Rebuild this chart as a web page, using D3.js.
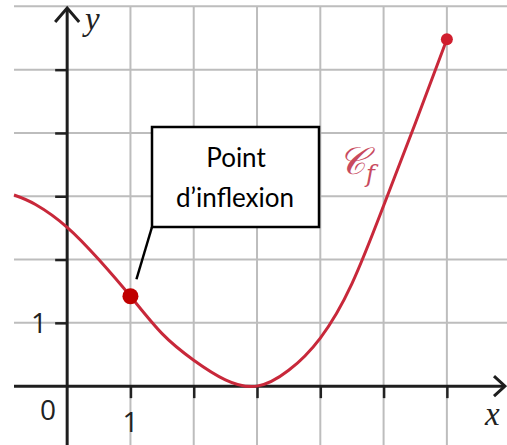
<!DOCTYPE html>
<html>
<head>
<meta charset="utf-8">
<script src="https://cdn.jsdelivr.net/npm/d3@7"></script>
<style>
  html, body { margin: 0; padding: 0; background: #fff; }
  svg { display: block; }
</style>
</head>
<body>
<svg id="chart" width="507" height="445"></svg>
<script>
// Sampled points of the curve C_f
const curveX = [-0.84, -0.5, 0, 0.5, 1, 1.5, 2, 2.5, 3, 3.5, 4, 4.5, 5, 5.5, 6];
const curveY = [3.02, 2.87, 2.51, 2.0, 1.42, 0.83, 0.41, 0.1, 0, 0.25, 0.76, 1.62, 2.85, 4.15, 5.48];

// Marked points: inflection point and the end point of the curve
const inflection = { x: 1, y: 1.42 };
const endPoint = { x: 6, y: 5.48 };

// Grid and tick values
const gridX = [1, 2, 3, 4, 5, 6];
const gridY = [1, 2, 3, 4, 5, 6];
const xTickLabels = ["1"];
const yTickLabels = ["1"];

const W = 507, H = 445;
const svg = d3.select("#chart");

const x = d3.scaleLinear().domain([-0.84, 6.95]).range([14, 507]);
const y = d3.scaleLinear().domain([-0.93, 5.99]).range([445, 7]);

const gridColor = "#bdbdbd";
const red = "#c8283a";

// Grid
const grid = svg.append("g");
grid.selectAll("line.vx").data(gridX).join("line")
  .attr("x1", d => x(d)).attr("x2", d => x(d))
  .attr("y1", y(5.99)).attr("y2", H)
  .attr("stroke", gridColor).attr("stroke-width", 2);
grid.selectAll("line.hy").data(gridY).join("line")
  .attr("x1", 14).attr("x2", W)
  .attr("y1", d => y(d)).attr("y2", d => y(d))
  .attr("stroke", gridColor).attr("stroke-width", 2);

// Axes ticks via d3 axes (no labels)
const axX = d3.axisBottom(x).tickValues(gridX).tickSize(12).tickFormat("");
const axY = d3.axisLeft(y).tickValues(gridY.slice(0, 5)).tickSize(12).tickFormat("");
const gx = svg.append("g").attr("transform", `translate(0,${y(0)})`).call(axX);
const gy = svg.append("g").attr("transform", `translate(${x(0)},0)`).call(axY);
[gx, gy].forEach(g => {
  g.select(".domain").remove();
  g.selectAll(".tick line").attr("stroke", "#222").attr("stroke-width", 2.5);
});

// Axis lines with arrowheads
const axisColor = "#1e1e1e";
svg.append("line").attr("x1", 14).attr("x2", 505)
  .attr("y1", y(0)).attr("y2", y(0))
  .attr("stroke", axisColor).attr("stroke-width", 3);
svg.append("line").attr("x1", x(0)).attr("x2", x(0))
  .attr("y1", H).attr("y2", 8)
  .attr("stroke", axisColor).attr("stroke-width", 3);
svg.append("path")
  .attr("d", `M${x(0) - 12},${22} L${x(0)},${8} L${x(0) + 12},${22}`)
  .attr("fill", "none").attr("stroke", axisColor).attr("stroke-width", 3)
  .attr("stroke-linejoin", "miter");
svg.append("path")
  .attr("d", `M${494},${y(0) - 10} L${505},${y(0)} L${494},${y(0) + 10}`)
  .attr("fill", "none").attr("stroke", axisColor).attr("stroke-width", 3);

// Curve
const pts = curveX.map((d, i) => [d, curveY[i]]);
const line = d3.line().x(d => x(d[0])).y(d => y(d[1])).curve(d3.curveNatural);
svg.append("path").datum(pts)
  .attr("d", line)
  .attr("fill", "none").attr("stroke", red).attr("stroke-width", 3);

// Points
svg.append("circle").attr("cx", x(inflection.x)).attr("cy", y(inflection.y))
  .attr("r", 8).attr("fill", "#c00000");
svg.append("circle").attr("cx", x(endPoint.x)).attr("cy", y(endPoint.y))
  .attr("r", 6).attr("fill", "#d01e2e");

// Callout box
svg.append("line")
  .attr("x1", 152).attr("y1", 227)
  .attr("x2", x(inflection.x) + 6).attr("y2", y(inflection.y) - 17)
  .attr("stroke", "#000").attr("stroke-width", 2.5);
svg.append("rect").attr("x", 152).attr("y", 127).attr("width", 167).attr("height", 100)
  .attr("fill", "#fff").attr("stroke", "#000").attr("stroke-width", 2.5);
svg.append("text").attr("x", 236).attr("y", 167)
  .attr("text-anchor", "middle").attr("font-family", "Lato, 'Open Sans', sans-serif")
  .attr("font-size", 26).attr("fill", "#000").text("Point");
svg.append("text").attr("x", 235).attr("y", 207)
  .attr("text-anchor", "middle").attr("font-family", "Lato, 'Open Sans', sans-serif")
  .attr("font-size", 26).attr("fill", "#000").text("d’inflexion");

// Curve label
const cf = svg.append("text").attr("x", 338).attr("y", 174)
  .attr("font-family", "'DejaVu Serif', serif").attr("font-style", "italic")
  .attr("fill", "#c84a5e");
cf.append("tspan").attr("font-size", 38).text("𝒞");
cf.append("tspan").attr("font-size", 24).attr("dy", 8).text("f");

// Axis labels
const serif = "'Liberation Serif', 'DejaVu Serif', serif";
svg.append("text").attr("x", 85).attr("y", 30)
  .attr("font-family", serif).attr("font-style", "italic").attr("font-size", 33)
  .attr("fill", "#222").text("y");
svg.append("text").attr("x", 485).attr("y", 425)
  .attr("font-family", serif).attr("font-style", "italic").attr("font-size", 33)
  .attr("fill", "#222").text("x");

const sans = "'Open Sans', Lato, sans-serif";
svg.append("text").attr("x", 48).attr("y", 420)
  .attr("text-anchor", "middle").attr("font-family", sans).attr("font-size", 28)
  .attr("fill", "#222").text("0");
svg.selectAll("text.xl").data(xTickLabels).join("text")
  .attr("x", d => x(+d)).attr("y", 432)
  .attr("text-anchor", "middle").attr("font-family", sans).attr("font-size", 28)
  .attr("fill", "#222").text(d => d);
svg.selectAll("text.yl").data(yTickLabels).join("text")
  .attr("x", 39).attr("y", y(1) + 10)
  .attr("text-anchor", "middle").attr("font-family", sans).attr("font-size", 28)
  .attr("fill", "#222").text(d => d);
</script>
</body>
</html>
